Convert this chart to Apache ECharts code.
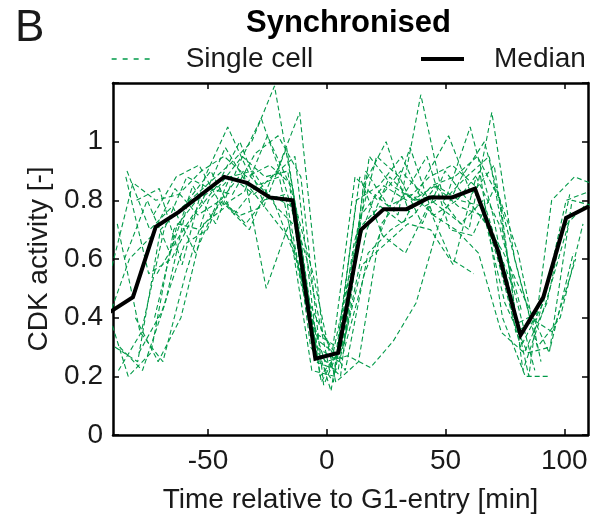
<!DOCTYPE html>
<html>
<head>
<meta charset="utf-8">
<script src="https://cdn.jsdelivr.net/npm/echarts@6/dist/echarts.min.js"></script>
<style>
  html, body { margin: 0; padding: 0; background: #fff; }
  #chart { width: 598px; height: 519px; }
</style>
</head>
<body>
<div id="chart"></div>
<script>
// 坐标刻度
const xTicks = [-50, 0, 50, 100]
const yTicks = [0, 0.2, 0.4, 0.6, 0.8, 1]

// 中位数曲线 (time, CDK activity)
const medianTimes = [-91.2, -81.6, -72, -62.4, -52.8, -43.2, -33.6, -24, -14.4, -4.8, 4.8, 14.4, 24, 33.6, 43.2, 52.8, 62.4, 72, 81.6, 91.2, 100.8, 110.4]
const medianValues = [0.42, 0.47, 0.71, 0.76, 0.82, 0.88, 0.86, 0.81, 0.80, 0.26, 0.28, 0.70, 0.77, 0.77, 0.81, 0.81, 0.84, 0.63, 0.34, 0.47, 0.74, 0.78]

// 单细胞曲线 [time, value]
const cell1 = [[-91.2, 0.55], [-81.6, 0.86], [-72, 0.80], [-62.4, 0.82], [-52.8, 0.90], [-43.2, 0.95], [-33.6, 0.88], [-24, 0.92], [-14.4, 0.85], [-4.8, 0.25], [4.8, 0.22], [14.4, 0.75], [24, 0.85], [33.6, 0.80], [43.2, 0.88], [52.8, 0.92], [62.4, 0.85], [72, 0.60], [81.6, 0.30], [91.2, 0.45], [100.8, 0.80], [110.4, 0.83]]
const cell2 = [[-89.2, 0.30], [-79.6, 0.25], [-70, 0.70], [-60.4, 0.78], [-50.8, 0.85], [-41.2, 0.92], [-31.6, 1.00], [-22, 1.19], [-12.4, 0.75], [-2.8, 0.20], [6.8, 0.30], [16.4, 0.90], [26, 0.78], [35.6, 0.82], [45.2, 0.75], [54.8, 0.80], [64.4, 0.90], [74, 0.40], [83.6, 0.20], [93.2, 0.20]]
const cell3 = [[-93.2, 0.45], [-83.6, 0.20], [-74, 0.28], [-64.4, 0.70], [-54.8, 0.80], [-45.2, 0.85], [-35.6, 0.95], [-26, 0.88], [-16.4, 0.90], [-6.8, 0.30], [2.8, 0.18], [12.4, 0.80], [22, 0.85], [31.6, 0.95], [41.2, 0.78], [50.8, 0.82], [60.4, 1.05], [70, 0.75], [79.6, 0.35], [89.2, 0.40], [98.8, 0.70], [108.4, 0.78]]
const cell4 = [[-88.2, 0.72], [-78.6, 0.35], [-69, 0.25], [-59.4, 0.55], [-49.8, 0.80], [-40.2, 0.88], [-30.6, 0.82], [-21, 0.90], [-11.4, 1.10], [-1.8, 0.35], [7.8, 0.22], [17.4, 0.62], [27, 0.70], [36.6, 0.75], [46.2, 0.85], [55.8, 0.80], [65.4, 0.78], [75, 0.45], [84.6, 0.28], [94.2, 0.30], [103.8, 0.62]]
const cell5 = [[-84.6, 0.88], [-75, 0.55], [-65.4, 0.60], [-55.8, 0.75], [-46.2, 0.85], [-36.6, 1.00], [-27, 0.80], [-17.4, 0.82], [-7.8, 0.40], [1.8, 0.15], [11.4, 0.65], [21, 0.95], [30.6, 0.88], [40.2, 0.72], [49.8, 0.90], [59.4, 0.80], [69, 0.70], [78.6, 0.50]]
const cell6 = [[-80.6, 0.40], [-71, 0.25], [-61.4, 0.40], [-51.8, 0.72], [-42.2, 0.78], [-32.6, 0.70], [-23, 0.88], [-13.4, 0.95], [-3.8, 0.28], [5.8, 0.20], [15.4, 0.85], [25, 1.00], [34.6, 0.76], [44.2, 0.85], [53.8, 0.88], [63.4, 0.95], [73, 0.80], [82.6, 0.22], [92.2, 0.45], [101.8, 0.72]]
const cell7 = [[-73, 0.75], [-63.4, 0.88], [-53.8, 0.92], [-44.2, 0.78], [-34.6, 0.83], [-25, 1.02], [-15.4, 0.85], [-5.8, 0.55], [3.8, 0.18], [13.4, 0.25], [23, 0.72], [32.6, 0.82], [42.2, 0.95], [51.8, 0.70], [61.4, 0.68], [71, 0.85], [80.6, 0.62], [90.2, 0.25]]
const cell8 = [[-87.2, 0.30], [-77.6, 0.22], [-68, 0.45], [-58.4, 0.80], [-48.8, 0.90], [-39.2, 0.75], [-29.6, 0.85], [-20, 0.88], [-10.4, 0.50], [-0.8, 0.25], [8.8, 0.27], [18.4, 0.23], [28, 0.32], [37.6, 0.45], [47.2, 0.72], [56.8, 0.88], [66.4, 1.00], [76, 0.70], [85.6, 0.40], [95.2, 0.35], [104.8, 0.60]]
const cell9 = [[-85.2, 0.60], [-75.6, 0.80], [-66, 0.62], [-56.4, 0.85], [-46.8, 0.72], [-37.2, 0.92], [-27.6, 1.08], [-18, 0.86], [-8.4, 0.60], [1.2, 0.22], [10.8, 0.60], [20.4, 0.82], [30, 0.75], [39.6, 1.16], [49.2, 0.80], [58.8, 0.88], [68.4, 0.95], [78, 0.52], [87.6, 0.22]]
const cell10 = [[-79.1, 0.28], [-69.5, 0.42], [-59.9, 0.65], [-50.3, 0.70], [-40.7, 0.88], [-31.1, 0.90], [-21.5, 0.78], [-11.9, 0.70], [-2.3, 0.18], [7.3, 0.32], [16.9, 0.70], [26.5, 0.88], [36.1, 0.80], [45.7, 0.85], [55.3, 0.78], [64.9, 0.75], [74.5, 0.62], [84.1, 0.45], [93.7, 0.28], [103.3, 0.80], [112.9, 0.78]]
const cell11 = [[-92.7, 0.38], [-83.1, 0.60], [-73.5, 0.68], [-63.9, 0.84], [-54.3, 0.75], [-44.7, 0.80], [-35.1, 0.90], [-25.5, 0.50], [-15.9, 0.72], [-6.3, 0.22], [3.3, 0.20], [12.9, 0.70], [22.5, 0.78], [32.1, 0.72], [41.7, 0.88], [51.3, 1.02], [60.9, 0.82], [70.5, 0.92], [80.1, 0.38], [89.7, 0.42]]
const cell12 = [[-71.5, 0.55], [-61.9, 0.68], [-52.3, 0.80], [-42.7, 0.98], [-33.1, 0.85], [-23.5, 0.75], [-13.9, 0.65], [-4.3, 0.30], [5.3, 0.25], [14.9, 0.58], [24.5, 0.65], [34.1, 0.72], [43.7, 0.70], [53.3, 0.58], [62.9, 0.88], [72.5, 0.72], [82.1, 0.42]]
const cell13 = [[-84.1, 0.90], [-74.5, 0.70], [-64.9, 0.78], [-55.3, 0.62], [-45.7, 0.80], [-36.1, 0.75], [-26.5, 0.78], [-16.9, 0.98], [-7.3, 0.45], [2.3, 0.28], [11.9, 0.88], [21.5, 0.80], [31.1, 0.90], [40.7, 0.82], [50.3, 0.76], [59.9, 0.70], [69.5, 1.10], [79.1, 0.60], [88.7, 0.30], [98.3, 0.40], [107.9, 0.72]]
const cell14 = [[-87.7, 0.22], [-78.1, 0.35], [-68.5, 0.70], [-58.9, 0.88], [-49.3, 0.84], [-39.7, 0.82], [-30.1, 0.96], [-20.5, 1.02], [-10.9, 0.88], [-1.3, 0.17], [8.3, 0.35], [17.9, 0.95], [27.5, 0.85], [37.1, 0.80], [46.7, 0.82], [56.3, 0.72], [65.9, 0.80], [75.5, 0.55], [85.1, 0.20], [94.7, 0.80], [104.3, 0.88], [113.9, 0.85]]
const cell15 = [[-72.5, 0.40], [-62.9, 0.72], [-53.3, 0.70], [-43.7, 0.80], [-34.1, 0.72], [-24.5, 0.82], [-14.9, 0.78], [-5.3, 0.35], [4.3, 0.30], [13.9, 0.88], [23.5, 0.68], [33.1, 0.62], [42.7, 0.78], [52.3, 0.60], [61.9, 0.55]]
const cell16 = [[-80.1, 0.80], [-70.5, 0.84], [-60.9, 0.58], [-51.3, 0.88], [-41.7, 1.05], [-32.1, 0.88], [-22.5, 0.80], [-12.9, 0.60], [-3.3, 0.32], [6.3, 0.26], [15.9, 0.55], [25.5, 0.75], [35.1, 0.98], [44.7, 0.75], [54.3, 0.70], [63.9, 0.62], [73.5, 0.35], [83.1, 0.28], [92.7, 0.45], [102.3, 0.82]]

const cells = [cell1, cell2, cell3, cell4, cell5, cell6, cell7, cell8, cell9, cell10, cell11, cell12, cell13, cell14, cell15, cell16]

const fontFamily = '"Liberation Sans", Arial, Helvetica, sans-serif'
const green = '#009a48'
const textColor = '#1a1a1a'

const chart = echarts.init(document.getElementById('chart'))

const cellSeries = cells.map(c => ({
  name: 'Single cell',
  type: 'line',
  data: c,
  symbol: 'none',
  showSymbol: false,
  silent: true,
  z: 2,
  lineStyle: { color: green, width: 1.1, type: [5, 3] },
  itemStyle: { color: green }
}))

const medianSeries = {
  name: 'Median',
  type: 'line',
  data: medianTimes.map((t, i) => [t, medianValues[i]]),
  symbol: 'none',
  showSymbol: false,
  z: 5,
  lineStyle: { color: '#000', width: 4, join: 'miter' },
  itemStyle: { color: '#000' }
}

const axisCommon = {
  axisLine: { show: true, onZero: false, lineStyle: { color: '#000', width: 2.5 } },
  axisTick: { show: true, inside: true, length: 6, lineStyle: { color: '#000', width: 1.5 } },
  splitLine: { show: false }
}

// 图例公共样式（去掉线上的圆点）
const legendCommon = {
  top: 45,
  padding: 0,
  itemWidth: 43,
  itemHeight: 12,
  selectedMode: false,
  itemStyle: { opacity: 0 }
}

const option = {
  animation: false,
  backgroundColor: '#fff',
  textStyle: { fontFamily: fontFamily },
  title: {
    text: 'Synchronised',
    left: 246,
    top: 8,
    padding: 0,
    textStyle: { fontSize: 31, fontWeight: 'bold', color: '#000', fontFamily: fontFamily }
  },
  graphic: [{
    type: 'text',
    left: 15,
    top: 7,
    style: { text: 'B', fontSize: 44, fill: textColor, fontFamily: fontFamily }
  }],
  legend: [{
    ...legendCommon,
    data: ['Single cell'],
    left: 111,
    lineStyle: { width: 1.3, type: [5, 6] },
    textStyle: { fontSize: 28, color: textColor, fontFamily: fontFamily, padding: [0, 0, 0, 26] }
  }, {
    ...legendCommon,
    data: ['Median'],
    left: 419,
    lineStyle: { width: 4 },
    textStyle: { fontSize: 28, color: textColor, fontFamily: fontFamily, padding: [0, 0, 0, 25] }
  }],
  grid: { left: 113, right: 10, top: 83, bottom: 77, containLabel: false },
  xAxis: [{
    type: 'value',
    min: -90,
    max: 110,
    position: 'bottom',
    name: 'Time relative to G1-entry [min]',
    nameLocation: 'middle',
    nameGap: 51,
    nameTextStyle: { fontSize: 28, color: textColor, fontFamily: fontFamily },
    ...axisCommon,
    axisTick: { ...axisCommon.axisTick, customValues: xTicks },
    axisLabel: { customValues: xTicks, fontSize: 28, color: textColor, margin: 12, fontFamily: fontFamily }
  }, {
    type: 'value',
    min: -90,
    max: 110,
    position: 'top',
    ...axisCommon,
    axisTick: { ...axisCommon.axisTick, customValues: xTicks },
    axisLabel: { show: false }
  }],
  yAxis: [{
    type: 'value',
    min: 0,
    max: 1.2,
    interval: 0.2,
    position: 'left',
    name: 'CDK activity [-]',
    nameLocation: 'middle',
    nameGap: 60,
    nameTextStyle: { fontSize: 28, color: textColor, fontFamily: fontFamily },
    ...axisCommon,
    axisLabel: {
      fontSize: 28,
      color: textColor,
      margin: 10,
      fontFamily: fontFamily,
      formatter: v => (v > 1.1 ? '' : String(+v.toFixed(1)))
    }
  }, {
    type: 'value',
    min: 0,
    max: 1.2,
    interval: 0.2,
    position: 'right',
    ...axisCommon,
    axisLabel: { show: false }
  }],
  series: [...cellSeries, medianSeries]
}

chart.setOption(option)
</script>
</body>
</html>
